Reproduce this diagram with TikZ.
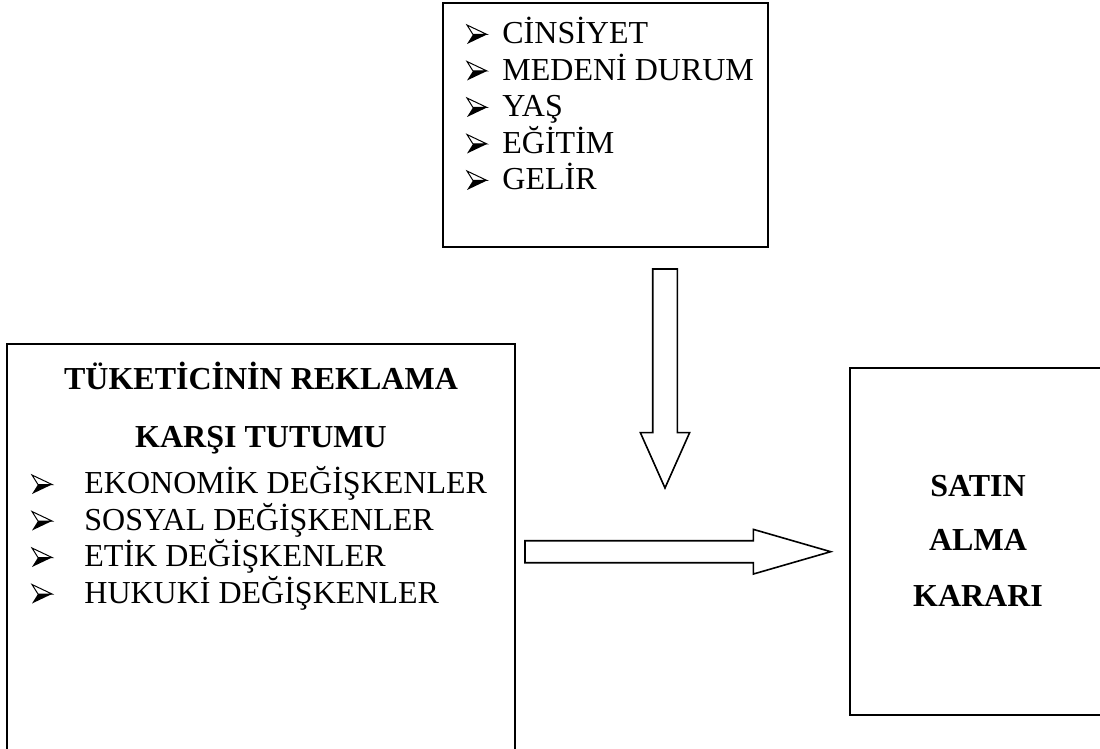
\documentclass[tikz,border=0pt]{standalone}
\usepackage{fontspec}
\setmainfont{Liberation Serif}
\usetikzlibrary{positioning}

\tikzset{
    box/.style={draw, line width=0.9pt, inner sep=0pt},
    item/.style={font=\fontsize{16}{18}\selectfont, inner sep=0pt, anchor=base west},
    head/.style={font=\bfseries\fontsize{16}{18}\selectfont, inner sep=0pt, anchor=base},
    blockarrow/.style={draw, line width=0.8pt, fill=white, line join=miter},
    % arrowhead bullet, origin at its lower back corner
    bullet/.pic={
        \fill (0,0) -- (20,-9.5) -- (6,-9.5) -- cycle;
        \draw[line width=0.5pt, line join=miter] (0,-19) -- (20,-9.5) -- (6,-9.5) -- cycle;
    }
}

\begin{document}
\begin{tikzpicture}[x=0.5pt, y=-0.5pt]
        \clip (0,0) rectangle (1100,749);

        % Boxes
        \node[box, minimum width=162.5pt, minimum height=122pt] (demo) at (605.5,125) {};
        \node[box, minimum width=254pt, minimum height=218pt] (attitude) at (261,562) {};
        \node[box, minimum width=128pt, minimum height=173.5pt] (buy) at (978,541.5) {};

        % Demographic list
        \foreach \t [count=\i] in {CİNSİYET, MEDENİ DURUM, YAŞ, EĞİTİM, GELİR} {
            \pic at (467, 7.5+36.5*\i) {bullet};
            \node[item] (dem-\i) at (502, 7.5+36.5*\i) {\t};
        }

        % Attitude box
        \node[head] (att-t1) at (261,390) {TÜKETİCİNİN REKLAMA};
        \node[head] (att-t2) at (261,447) {KARŞI TUTUMU};
        \foreach \t [count=\i] in {EKONOMİK DEĞİŞKENLER, SOSYAL DEĞİŞKENLER,
                                   ETİK DEĞİŞKENLER, HUKUKİ DEĞİŞKENLER} {
            \pic at (32, 457.5+36.5*\i) {bullet};
            \node[item] (att-\i) at (84, 457.5+36.5*\i) {\t};
        }

        % Decision box
        \foreach \t [count=\i] in {SATIN, ALMA, KARARI}
            \node[head] (buy-\i) at (978, 441+55*\i) {\t};

        % Block arrows
        \coordinate (down-tail) at (665,269);
        \coordinate (right-tail) at (525,551.7);
        \draw[blockarrow] (down-tail) ++(-12.3,0) -- ++(0,163.7) -- ++(-12.3,0)
            -- ++(24.6,55.3) -- ++(24.6,-55.3) -- ++(-12.3,0) -- ++(0,-163.7) -- cycle;
        \draw[blockarrow] (right-tail) ++(0,-11) -- ++(228.3,0) -- ++(0,-11.35)
            -- ++(77.4,22.35) -- ++(-77.4,22.35) -- ++(0,-11.35) -- ++(-228.3,0) -- cycle;
\end{tikzpicture}
\end{document}
